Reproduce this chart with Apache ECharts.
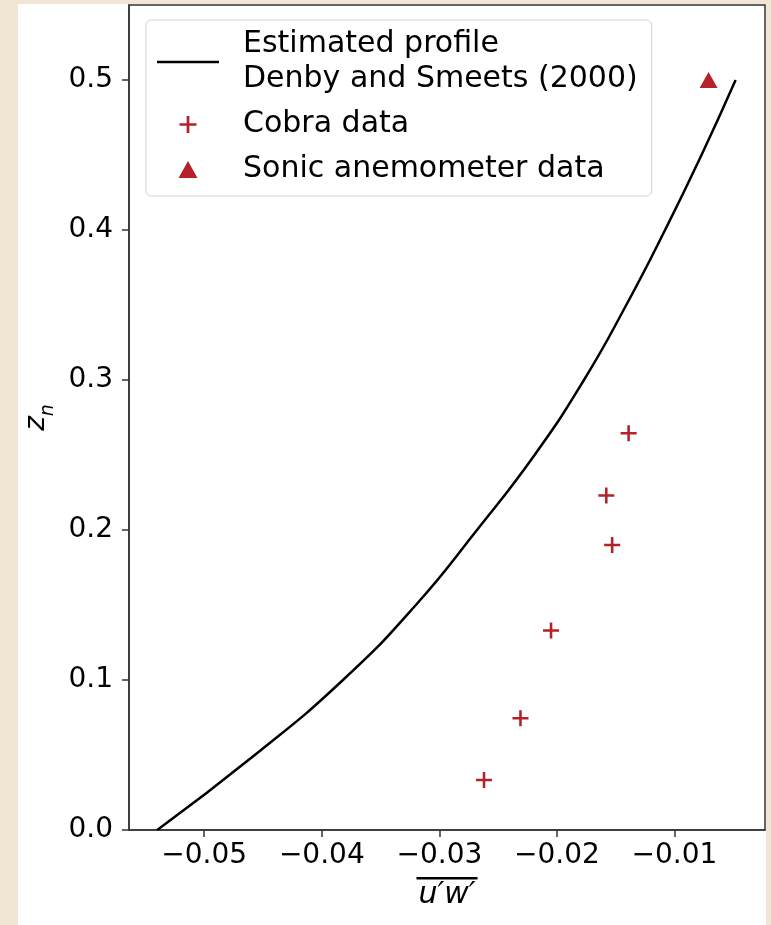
<!DOCTYPE html>
<html>
<head>
<meta charset="utf-8">
<script src="https://cdn.jsdelivr.net/npm/echarts@6/dist/echarts.min.js"></script>
<style>
  html, body { margin: 0; padding: 0; width: 771px; height: 925px; overflow: hidden;
    background: #f0e6d3; }
  #chart { position: absolute; left: 18px; top: 4px; width: 748px; height: 921px; background: #ffffff; }
</style>
</head>
<body>
<div id="chart"></div>
<script>
// Estimated profile (Denby and Smeets, 2000)
const profileX = [-0.0540, -0.0457, -0.0382, -0.0320, -0.0268, -0.0219, -0.0177, -0.0141, -0.0108, -0.0077, -0.0048];
const profileZ = [0.00, 0.05, 0.10, 0.15, 0.20, 0.25, 0.30, 0.35, 0.40, 0.45, 0.50];
// Cobra data
const cobraX = [-0.0139, -0.0158, -0.0153, -0.0205, -0.0231, -0.0262];
const cobraZ = [0.2645, 0.223, 0.190, 0.133, 0.0745, 0.0333];
// Sonic anemometer data
const sonicX = [-0.0071];
const sonicZ = [0.500];
// Ticks
const xTicks = [-0.05, -0.04, -0.03, -0.02, -0.01];
const yTicks = [0.0, 0.1, 0.2, 0.3, 0.4, 0.5];

const FONT = 'DejaVu Sans';
const RED = '#b52128';
const PLUS = 'path://M4.2,0h1.6v4.2h4.2v1.6h-4.2v4.2h-1.6v-4.2h-4.2v-1.6h4.2z';
const TRI = 'path://M5,0L10,9L0,9Z';
const LINE_ICON = 'path://M0,0H62V2.5H0Z';

const zip = (xs, ys) => xs.map((x, i) => [x, ys[i]]);

const chart = echarts.init(document.getElementById('chart'), null, { renderer: 'canvas' });
chart.setOption({
  animation: false,
  backgroundColor: '#ffffff',
  grid: {
    left: 111, top: 1, width: 636, height: 825,
    outerBoundsMode: 'none', containLabel: false,
    show: true, borderColor: '#333', borderWidth: 1.5, backgroundColor: '#fff'
  },
  xAxis: {
    type: 'value', min: -0.0564, max: -0.0023,
    axisLine: { show: true, lineStyle: { color: '#333', width: 1.5 } },
    axisTick: { show: true, inside: false, length: 7, lineStyle: { color: '#333', width: 1.5 }, customValues: xTicks },
    axisLabel: {
      customValues: xTicks, margin: 12, color: '#000', fontFamily: FONT, fontSize: 28,
      formatter: v => (v < 0 ? '\u2212' : '') + Math.abs(v).toFixed(2)
    },
    splitLine: { show: false },
    name: '{o| }\n{t|u\u2032w\u2032}',
    nameLocation: 'middle', nameGap: 47,
    nameTextStyle: {
      align: 'center', verticalAlign: 'top',
      rich: {
        o: { width: 61, height: 2.5, lineHeight: 2.5, fontSize: 2, backgroundColor: '#000', align: 'center' },
        t: { fontFamily: FONT, fontStyle: 'italic', fontSize: 30, lineHeight: 32, color: '#000', align: 'center' }
      }
    }
  },
  yAxis: {
    type: 'value', min: 0, max: 0.55,
    axisLine: { show: true, lineStyle: { color: '#333', width: 1.5 } },
    axisTick: { show: true, inside: false, length: 7, lineStyle: { color: '#333', width: 1.5 }, customValues: yTicks },
    axisLabel: {
      customValues: yTicks, margin: 16, color: '#000', fontFamily: FONT, fontSize: 28,
      formatter: v => v.toFixed(1)
    },
    splitLine: { show: false },
    name: '{z|z}{n|n}',
    nameLocation: 'middle', nameGap: 60, nameRotate: 90,
    nameTextStyle: {
      rich: {
        z: { fontFamily: FONT, fontStyle: 'italic', fontSize: 28, verticalAlign: 'bottom', padding: [0, 0, 7, 0], color: '#000' },
        n: { fontFamily: FONT, fontStyle: 'italic', fontSize: 19, verticalAlign: 'bottom', color: '#000' }
      }
    }
  },
  legend: {
    show: true, orient: 'vertical', left: 128, top: 16,
    padding: [7, 14, 9, 11], itemGap: 10,
    itemWidth: 62, itemHeight: 17,
    backgroundColor: 'rgba(255,255,255,0.85)', borderColor: '#d4d4d4', borderWidth: 1, borderRadius: 5,
    textStyle: { fontFamily: FONT, fontSize: 30, lineHeight: 35, color: '#000', padding: [0, 0, 0, 19] },
    data: [
      { name: 'Estimated profile\nDenby and Smeets (2000)', icon: LINE_ICON },
      { name: 'Cobra data', icon: PLUS },
      { name: 'Sonic anemometer data', icon: TRI }
    ]
  },
  series: [
    {
      name: 'Estimated profile\nDenby and Smeets (2000)',
      type: 'line', smooth: 0.5, symbol: 'none', showSymbol: false,
      data: zip(profileX, profileZ),
      lineStyle: { color: '#000', width: 2.5 },
      itemStyle: { color: '#000' }
    },
    {
      name: 'Cobra data', type: 'scatter',
      symbol: PLUS, symbolSize: [16, 16],
      data: zip(cobraX, cobraZ),
      itemStyle: { color: RED, opacity: 1 }
    },
    {
      name: 'Sonic anemometer data', type: 'scatter',
      symbol: TRI, symbolSize: [18, 16],
      data: zip(sonicX, sonicZ),
      itemStyle: { color: RED, opacity: 1 }
    }
  ]
});
</script>
</body>
</html>
